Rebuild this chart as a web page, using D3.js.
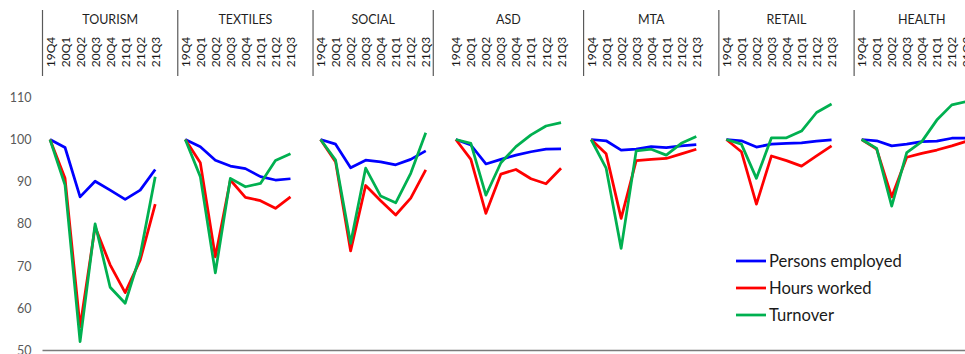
<!DOCTYPE html>
<html>
<head>
<meta charset="utf-8">
<script src="https://cdn.jsdelivr.net/npm/d3@7"></script>
<style>
  html, body { margin: 0; padding: 0; background: #fff; }
  svg { display: block; font-family: Lato, "Open Sans", "Liberation Sans", sans-serif; }
</style>
</head>
<body>
<svg id="chart" width="965" height="354"></svg>
<script>
// Sectors shown side by side, each with eight quarters (index 19Q4 = 100)
const sectors = ["TOURISM", "TEXTILES", "SOCIAL", "ASD", "MTA", "RETAIL", "HEALTH"];
const quarters = ["19Q4", "20Q1", "20Q2", "20Q3", "20Q4", "21Q1", "21Q2", "21Q3"];
// Blank category rows before / after each sector block on the shared axis
const leadingBlanks  = [0, 0, 0, 1, 0, 0, 0];
const trailingBlanks = [1, 1, 0, 1, 1, 1, 1];

const yTicks = [50, 60, 70, 80, 90, 100, 110];

const personsEmployed = [
  [100, 98.1, 86.4, 90.1, 88.0, 85.8, 88.0, 92.9],
  [100, 98.3, 95.1, 93.7, 93.1, 91.2, 90.4, 90.7],
  [100, 98.9, 93.3, 95.1, 94.7, 94.0, 95.3, 97.3],
  [100, 98.7, 94.2, 95.3, 96.3, 97.1, 97.7, 97.8],
  [100, 99.7, 97.5, 97.7, 98.3, 98.1, 98.5, 98.8],
  [100, 99.7, 98.2, 98.9, 99.1, 99.2, 99.6, 99.9],
  [100, 99.7, 98.5, 98.9, 99.5, 99.6, 100.3, 100.3]
];
const hoursWorked = [
  [100, 90.8, 55.6, 79.3, 70.3, 63.7, 71.4, 84.7],
  [100, 94.5, 72.2, 90.4, 86.3, 85.5, 83.7, 86.4],
  [100, 94.7, 73.6, 89.1, 85.5, 82.1, 86.1, 92.8],
  [100, 95.3, 82.5, 91.8, 92.9, 90.7, 89.5, 93.2],
  [100, 96.6, 81.3, 95.0, 95.3, 95.5, 96.6, 97.7],
  [100, 97.1, 84.7, 96.1, 95.0, 93.7, 96.1, 98.5],
  [100, 97.7, 86.4, 95.8, 96.7, 97.5, 98.5, 99.6]
];
const turnover = [
  [100, 89.2, 52.1, 80.0, 65.0, 61.2, 72.6, 91.2],
  [100, 91.2, 68.4, 90.8, 88.8, 89.6, 95.0, 96.6],
  [100, 95.1, 75.4, 93.2, 86.6, 85.0, 92.0, 101.6],
  [100, 99.1, 86.8, 94.5, 98.3, 101.1, 103.2, 104.0],
  [100, 93.2, 74.2, 97.3, 97.7, 96.3, 99.1, 100.7],
  [100, 98.9, 90.8, 100.4, 100.4, 102.0, 106.4, 108.4],
  [100, 97.9, 84.2, 96.9, 99.5, 104.6, 108.2, 109.0]
];

const seriesNames = ["Persons employed", "Hours worked", "Turnover"];
const seriesValues = [personsEmployed, hoursWorked, turnover];
const seriesColors = ["#0000ff", "#ff0000", "#00b050"];

// Build the flat category axis: one row per quarter plus blank spacer rows
const rows = [];
const blocks = [];
sectors.forEach((s, g) => {
  const start = rows.length;
  for (let i = 0; i < leadingBlanks[g]; i++) rows.push({ sector: s, label: "" });
  const first = rows.length;
  quarters.forEach(q => rows.push({ sector: s, label: q }));
  for (let i = 0; i < trailingBlanks[g]; i++) rows.push({ sector: s, label: "" });
  blocks.push({ sector: s, start, end: rows.length, first });
});

const svg = d3.select("#chart");
const slot = 15.03;
const left = 42.5;

const x = d3.scaleBand()
  .domain(d3.range(rows.length))
  .range([left, left + rows.length * slot])
  .padding(0);
const cx = i => x(i) + x.bandwidth() / 2;

const y = d3.scaleLinear().domain([50, 110]).range([350.5, 97.3]);

// Value axis labels
const yAxis = svg.append("g")
  .attr("transform", `translate(${left - 6},0)`)
  .call(d3.axisLeft(y).tickValues(yTicks).tickSize(0).tickPadding(5));
yAxis.select(".domain").remove();
yAxis.selectAll("text")
  .attr("fill", "#595959")
  .style("font-size", "12.5px")
  .style("font-family", "Lato, 'Open Sans', sans-serif");

// Baseline at the bottom of the plot
svg.append("line")
  .attr("x1", left).attr("x2", 965)
  .attr("y1", y(50)).attr("y2", y(50))
  .attr("stroke", "#7a7a7a").attr("stroke-width", 1.5);

// Sector separators and titles along the top category axis
const catAxis = svg.append("g");
blocks.forEach(b => {
  const x0 = x(b.start);
  const x1 = x(b.end - 1) + x.bandwidth();
  catAxis.append("line")
    .attr("x1", x0).attr("x2", x0)
    .attr("y1", 10).attr("y2", 76)
    .attr("stroke", "#595959").attr("stroke-width", 1.2);
  catAxis.append("text")
    .attr("x", (x0 + x1) / 2).attr("y", 19)
    .attr("text-anchor", "middle")
    .attr("dominant-baseline", "central")
    .attr("fill", "#1f1f1f")
    .style("font-size", "12.5px")
    .text(b.sector);
});

// Quarter labels, rotated
rows.forEach((r, i) => {
  if (!r.label) return;
  catAxis.append("text")
    .attr("transform", `translate(${cx(i)},52) rotate(-90)`)
    .attr("text-anchor", "middle")
    .attr("dominant-baseline", "central")
    .attr("fill", "#1a1a1a")
    .style("font-size", "12px")
    .text(r.label);
});

// Lines: one path per series per sector
const line = d3.line()
  .x(d => cx(d.i))
  .y(d => y(d.v));

const plot = svg.append("g");
seriesValues.forEach((vals, s) => {
  blocks.forEach((b, g) => {
    const pts = vals[g].map((v, k) => ({ i: b.first + k, v }));
    plot.append("path")
      .datum(pts)
      .attr("d", line)
      .attr("fill", "none")
      .attr("stroke", seriesColors[s])
      .attr("stroke-width", 2.75)
      .attr("stroke-linejoin", "round");
  });
});

// Legend
const legend = svg.append("g").attr("transform", "translate(736,261)");
seriesNames.forEach((name, s) => {
  const gy = s * 27;
  legend.append("line")
    .attr("x1", 0).attr("x2", 30)
    .attr("y1", gy).attr("y2", gy)
    .attr("stroke", seriesColors[s]).attr("stroke-width", 2.75);
  legend.append("text")
    .attr("x", 33).attr("y", gy)
    .attr("dominant-baseline", "central")
    .attr("fill", "#1a1a1a")
    .style("font-size", "16.6px")
    .text(name);
});
</script>
</body>
</html>
